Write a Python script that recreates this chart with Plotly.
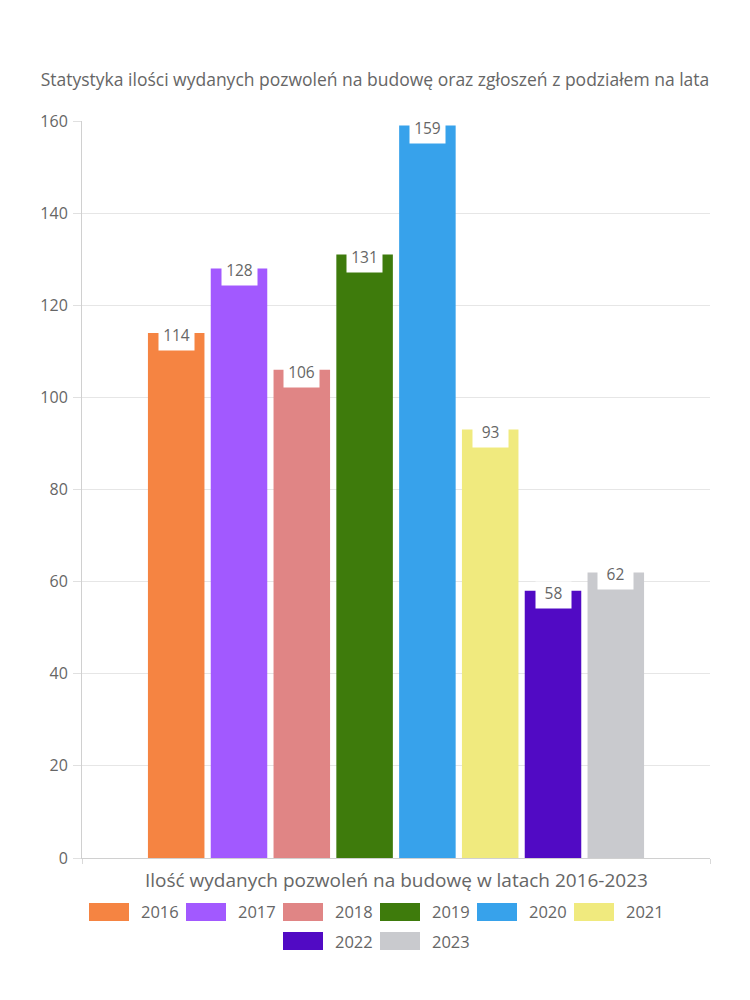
import plotly.graph_objects as go

# ---- data ----
years = ["2016", "2017", "2018", "2019", "2020", "2021", "2022", "2023"]
values = [114, 128, 106, 131, 159, 93, 58, 62]
colors = ["#F58442", "#A259FF", "#E08585", "#3E7B0C", "#37A2EB", "#F0EA7E", "#510AC4", "#C9CACE"]
y_ticks = [0, 20, 40, 60, 80, 100, 120, 140, 160]

title_text = "Statystyka ilości wydanych pozwoleń na budowę oraz zgłoszeń z podziałem na lata"
x_title_text = "Ilość wydanych pozwoleń na budowę w latach 2016-2023"

FONT = "Open Sans"
TXT = "#666666"
OFF = 8  # page body margin
W, H = 742, 992
ML, MR, MT, MB = 74, 40, 113, 142
PW, PH = W - ML - MR, H - MT - MB

fig = go.Figure()
for i, (yr, v, c) in enumerate(zip(years, values, colors)):
    fig.add_trace(go.Bar(x=[i], y=[v], name=yr, width=0.9,
                         marker=dict(color=c, line=dict(width=0)),
                         showlegend=False, hoverinfo="y+name"))
    fig.add_annotation(x=i, y=v, xref="x", yref="y", text=str(v),
                       showarrow=False, bgcolor="white", borderpad=0,
                       width=35, height=26, valign="top",
                       yanchor="top", yshift=10,
                       font=dict(family=FONT, size=15.5, color=TXT))

# x-axis title
fig.add_annotation(x=0.5, y=0, xref="paper", yref="paper", text=x_title_text,
                   showarrow=False, yanchor="middle", yshift=-22,
                   font=dict(family=FONT, size=19, color=TXT))

# custom legend (wide colour boxes like the reference)
def px2x(px):
    return (px - OFF - ML) / PW

def py2y(py):
    return (H - MB - (py - OFF)) / PH

rows = [list(range(0, 6)), list(range(6, 8))]
row_y = [912, 941]
pitch, box_w, box_h, gap = 97, 40, 18, 10
for r, idxs in enumerate(rows):
    total = len(idxs) * pitch - gap
    start = 375 - total / 2
    for k, i in enumerate(idxs):
        x0 = start + k * pitch
        yc = row_y[r]
        fig.add_shape(type="rect", xref="paper", yref="paper",
                      x0=px2x(x0), x1=px2x(x0 + box_w),
                      y0=py2y(yc - box_h / 2), y1=py2y(yc + box_h / 2),
                      fillcolor=colors[i], line=dict(width=0))
        fig.add_annotation(x=px2x(x0 + box_w + gap), y=py2y(yc), xref="paper", yref="paper",
                           text=years[i], showarrow=False, xanchor="left", yanchor="middle",
                           font=dict(family=FONT, size=16.5, color=TXT))

fig.update_layout(
    width=W, height=H,
    margin=dict(l=ML, r=MR, t=MT, b=MB),
    paper_bgcolor="white", plot_bgcolor="white",
    barmode="overlay",
    showlegend=False,
    font=dict(family=FONT, color=TXT),
    title=dict(text=title_text, x=(375 - OFF) / W, xanchor="center",
               y=1 - (80 - OFF) / H, yanchor="middle",
               yref="container", font=dict(family=FONT, size=17.5, color=TXT)),
    xaxis=dict(range=[-1.5, 8.5], tickvals=[-1.5, 8.5], ticktext=["", ""],
               ticks="outside", ticklen=5, tickcolor="#d9d9d9",
               showgrid=True, gridcolor="#e6e6e6", zeroline=False,
               showline=True, linecolor="#d0d0d0", linewidth=1, fixedrange=True),
    yaxis=dict(range=[0, 160], tickvals=y_ticks, ticks="outside", ticklen=8,
               tickcolor="#e0e0e0", showgrid=True, gridcolor="#e6e6e6",
               zeroline=False, showline=True, linecolor="#d0d0d0", linewidth=1,
               tickfont=dict(family=FONT, size=16, color=TXT), ticklabelstandoff=2),
)

fig.write_html("out.html")
